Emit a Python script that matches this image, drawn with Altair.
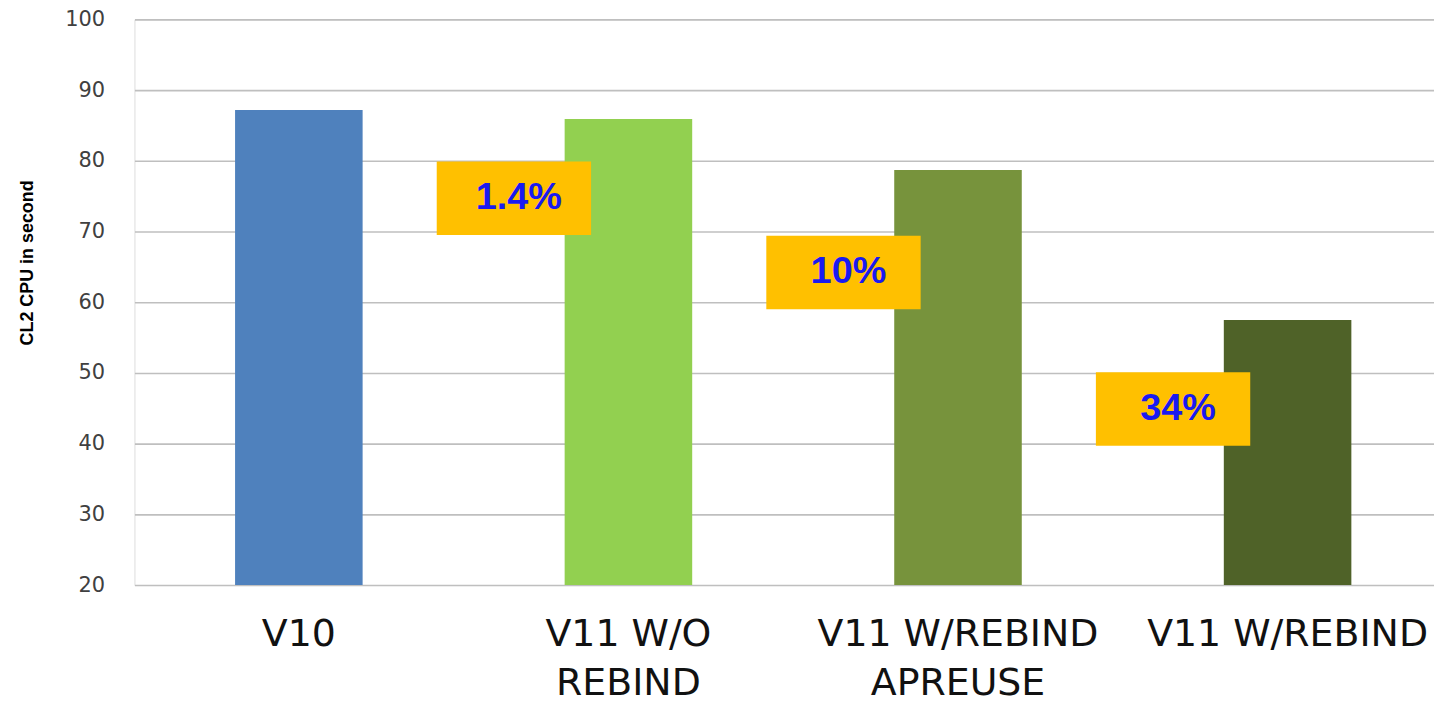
import altair as alt
import pandas as pd

categories = ["V10", "V11 W/O REBIND", "V11 W/REBIND APREUSE", "V11 W/REBIND"]
cpu_seconds = [87.2, 85.9, 78.7, 57.5]
bar_colors = ["#4F81BD", "#92D050", "#77933C", "#4F6228"]
label_lines = [["V10"], ["V11 W/O", "REBIND"], ["V11 W/REBIND", "APREUSE"], ["V11 W/REBIND"]]

note_labels = ["1.4%", "10%", "34%"]
note_category = ["V11 W/O REBIND", "V11 W/REBIND APREUSE", "V11 W/REBIND"]
note_top = [79.9, 69.4, 50.1]
note_bottom = [69.5, 59.0, 39.7]

y_ticks = [20, 30, 40, 50, 60, 70, 80, 90, 100]

bars_df = pd.DataFrame({"cat": categories, "cpu": cpu_seconds})
notes_df = pd.DataFrame({"cat": note_category, "label": note_labels,
                         "top": note_top, "bottom": note_bottom})

# build label expression for multi-line tick labels
expr = "datum.value"
for cat, lines in zip(categories, label_lines):
    arr = "[" + ",".join("'" + l + "'" for l in lines) + "]"
    expr = f"datum.value == '{cat}' ? {arr} : (" + expr + ")"

x_scale = alt.Scale(domain=categories, paddingInner=0.613, paddingOuter=0.278, align=0.549)
y_scale = alt.Scale(domain=[20, 100], nice=False, zero=False)

x_enc = alt.X("cat:N", scale=x_scale, sort=categories,
              axis=alt.Axis(title=None, labelAngle=0, ticks=False, domain=False,
                            labelFont="DejaVu Sans", labelFontSize=38, labelColor="#111111",
                            labelPadding=31, labelLineHeight=49, labelOverlap=False,
                            labelLimit=0, labelExpr=expr, labelBaseline="top"))

bars = alt.Chart(bars_df).mark_bar().encode(
    x=x_enc,
    y=alt.Y("cpu:Q", scale=y_scale,
            axis=alt.Axis(title="CL2 CPU in second", values=y_ticks, ticks=False, domain=False,
                          labelFont="DejaVu Sans", labelFontSize=21, labelColor="#404040",
                          labelPadding=30, gridColor="#BFBFBF", gridWidth=1.6,
                          titleFont="Liberation Sans", titleFontWeight="bold",
                          titleFontSize=18, titleColor="#000000",
                          titleX=-107, titleY=244, titleBaseline="middle", titleAngle=270)),
    y2=alt.datum(20),
    color=alt.Color("cat:N", scale=alt.Scale(domain=categories, range=bar_colors), legend=None),
)

boxes = alt.Chart(notes_df).mark_bar(color="#FFC000", width=155, xOffset=-115).encode(
    x=alt.X("cat:N", scale=x_scale, sort=categories),
    y=alt.Y("top:Q", scale=y_scale),
    y2="bottom:Q",
)

texts = alt.Chart(notes_df).transform_calculate(
    mid="(datum.top + datum.bottom) / 2"
).mark_text(font="Liberation Sans", fontWeight="bold", fontSize=38, color="#1A1AF0",
            xOffset=-110, baseline="middle", align="center").encode(
    x=alt.X("cat:N", scale=x_scale, sort=categories),
    y=alt.Y("mid:Q", scale=y_scale),
    text="label:N",
)

chart = alt.layer(bars, boxes, texts).properties(
    width=1305, height=568,
    autosize=alt.AutoSizeParams(type="none"),
    padding={"left": 127, "top": 10, "right": 0, "bottom": 120},
).configure_view(stroke=None).configure(background="white")

chart.save("out.html", embed_options={"renderer": "svg", "actions": False})
